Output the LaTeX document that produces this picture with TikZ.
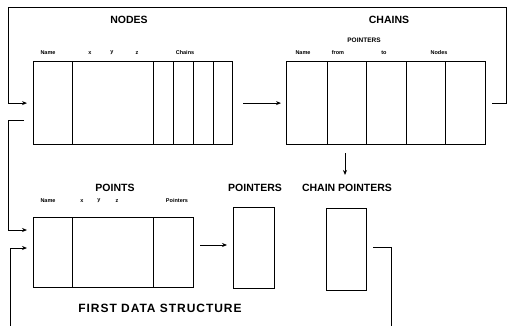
\documentclass[tikz,border=0pt]{standalone}
\usepackage{fontspec}
\setmainfont{Liberation Sans}
\usetikzlibrary{arrows.meta}
\tikzset{
  cell/.style={draw, line width=1.2pt, inner sep=0pt, anchor=north west},
  wire/.style={line width=0.9pt},
  arr/.style={wire, -{Stealth[length=5pt,width=4pt]}},
  title/.style={font=\bfseries\fontsize{10.5}{12}\selectfont, inner sep=0pt},
  head/.style={font=\bfseries\fontsize{5.5}{6}\selectfont, inner sep=0pt},
  big/.style={font=\bfseries\fontsize{12}{14}\selectfont, inner sep=0pt},
}
% cell: name, left, top, width, height
\newcommand{\cellat}[5]{\node[cell, minimum width=#4pt, minimum height=#5pt] (#1) at (#2,#3) {};}
\begin{document}
\begin{tikzpicture}[x=1pt,y=-1pt]
\useasboundingbox[fill=white] (0,0) rectangle (516,326);

% NODES table
\cellat{n1}{33}{61}{39}{83}
\cellat{n2}{72}{61}{81}{83}
\cellat{n3}{153}{61}{20}{83}
\cellat{n4}{173}{61}{20}{83}
\cellat{n5}{193}{61}{20}{83}
\cellat{n6}{213}{61}{19}{83}
\node[title] (tn) at (129,20) {NODES};
\node[head] (hn1) at (48,53) {Name};
\node[head] (hn2) at (90,53) {x};
\node[head] (hn3) at (112,53) {y};
\node[head] (hn4) at (137,53) {z};
\node[head] (hn5) at (185,53) {Chains};

% CHAINS table
\cellat{c1}{286}{61}{41}{83}
\cellat{c2}{327}{61}{39}{83}
\cellat{c3}{366}{61}{40}{83}
\cellat{c4}{406}{61}{39}{83}
\cellat{c5}{445}{61}{40}{83}
\node[title] (tc) at (389,20) {CHAINS};
\node[head, font=\bfseries\fontsize{6.5}{7}\selectfont] (tcp) at (364,40) {POINTERS};
\node[head] (hc1) at (303,53) {Name};
\node[head] (hc2) at (338,53) {from};
\node[head] (hc3) at (384,53) {to};
\node[head] (hc4) at (439,53) {Nodes};

% POINTS table
\cellat{p1}{33}{217}{39}{70}
\cellat{p2}{72}{217}{81}{70}
\cellat{p3}{153}{217}{40}{70}
\node[title] (tp) at (115,188) {POINTS};
\node[head] (hp1) at (48,201) {Name};
\node[head] (hp2) at (82,201) {x};
\node[head] (hp3) at (99,201) {y};
\node[head] (hp4) at (117,201) {z};
\node[head] (hp5) at (177,201) {Pointers};

% POINTERS and CHAIN POINTERS
\cellat{pt}{233}{207}{41}{81}
\cellat{cp}{326}{208}{40}{82}
\node[title] (tpt) at (255,188) {POINTERS};
\node[title] (tcpt) at (347,188) {CHAIN POINTERS};

\node[big, font=\bfseries\fontsize{12}{14}\selectfont\addfontfeature{LetterSpace=8}] (tfirst) at (160,308) {FIRST DATA STRUCTURE};

% connectors
\draw[arr] ([xshift=10pt]n6.east) -- ([xshift=-5pt]c1.west);
\coordinate (loopR) at ([xshift=6pt]c5.east);
\coordinate (loopL) at ([xshift=-6pt]n1.west);
\draw[arr] (loopR) -- (loopR -| 506,0) -- (506,7) -- (8,7) -- (8,0 |- loopL) -- (loopL);
\coordinate (brk) at (24,120);
\coordinate (pin1) at (27,230);
\coordinate (pin2) at (27,248);
\draw[arr] (brk) -- (8,120) -- (8,230) -- (pin1);
\draw[arr] (10,326) -- (10,248) -- (pin2);
\draw[arr] (200,245) -- (227,245);
\coordinate (cdown) at (345,153);
\draw[arr] (cdown) -- (345,175);
\coordinate (cpout) at (373,247);
\draw[wire] (cpout) -- (391,247) -- (391,326);
\end{tikzpicture}
\end{document}
